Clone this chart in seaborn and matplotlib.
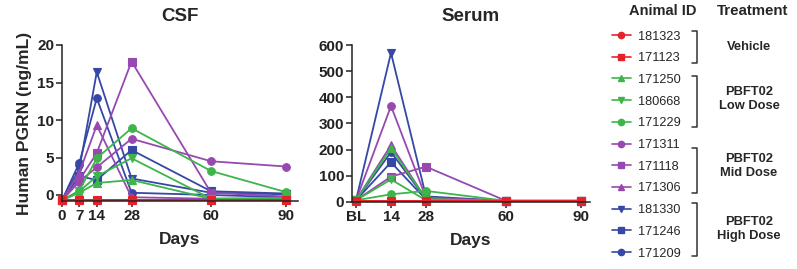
import numpy as np
import pandas as pd
import matplotlib
matplotlib.use("Agg")
import matplotlib.pyplot as plt
from matplotlib.lines import Line2D
import seaborn as sns

# ---------------- data ----------------
animals = ["181323", "171123", "171250", "180668", "171229",
           "171311", "171118", "171306", "181330", "171246", "171209"]
groups = ["Vehicle", "Vehicle", "Low", "Low", "Low",
          "Mid", "Mid", "Mid", "High", "High", "High"]

csf_days = [0, 7, 14, 28, 60, 90]
csf_vals = {
    "181323": [-0.7, -0.7, -0.7, -0.7, -0.7, -0.7],
    "171123": [-0.7, -0.7, -0.7, -0.7, -0.7, -0.7],
    "171250": [-0.7, 0.3, 1.6, 2.0, -0.5, -0.5],
    "180668": [-0.7, 0.5, 2.5, 4.9, -0.5, -0.4],
    "171229": [-0.7, 0.6, 4.9, 8.9, 3.2, 0.4],
    "171311": [-0.7, 1.8, 3.7, 7.5, 4.5, 3.8],
    "171118": [-0.7, 2.0, 5.6, 17.8, 0.3, -0.2],
    "171306": [-0.7, 3.0, 9.3, -0.3, -0.5, -0.5],
    "181330": [-0.7, 3.5, 16.4, 2.2, 0.3, 0.1],
    "171246": [-0.7, 2.5, 2.0, 6.0, 0.5, 0.2],
    "171209": [-0.7, 4.3, 12.9, 0.3, 0.0, -0.3],
}

serum_days = [0, 14, 28, 60, 90]
serum_vals = {
    "181323": [3, 3, 3, 3, 3],
    "171123": [3, 3, 3, 3, 3],
    "171250": [5, 205, 10, 2, 2],
    "180668": [5, 85, 5, 2, 2],
    "171229": [5, 28, 41, 3, 3],
    "171311": [5, 367, 15, 3, 3],
    "171118": [5, 96, 134, 3, 3],
    "171306": [5, 217, 10, 3, 3],
    "181330": [5, 571, 20, 3, 3],
    "171246": [5, 151, 8, 3, 3],
    "171209": [5, 190, 10, 3, 3],
}

csf_xticks = [0, 7, 14, 28, 60, 90]
csf_yticks = [0, 5, 10, 15, 20]
serum_xticks = [0, 14, 28, 60, 90]
serum_xlabels = ["BL", "14", "28", "60", "90"]
serum_yticks = [0, 100, 200, 300, 400, 500, 600]

treatments = ["Vehicle", "PBFT02\nLow Dose", "PBFT02\nMid Dose", "PBFT02\nHigh Dose"]

# ---------------- styles ----------------
group_colors = {"Vehicle": "#e52229", "Low": "#3db54a", "Mid": "#9749b0", "High": "#3548a6"}
marker_map = {"181323": "o", "171123": "s", "171250": "^", "180668": "v", "171229": "o",
              "171311": "o", "171118": "s", "171306": "^", "181330": "v", "171246": "s",
              "171209": "o"}
palette = {a: group_colors[g] for a, g in zip(animals, groups)}

sns.set_theme(style="ticks")
plt.rcParams["font.family"] = ["Liberation Sans", "DejaVu Sans"]

W, H = 797, 269
fig = plt.figure(figsize=(W / 100, H / 100), dpi=100)


def ax_rect(x0, y0, x1, y1):
    return [x0 / W, 1 - y1 / H, (x1 - x0) / W, (y1 - y0) / H]


def fx(x):
    return x / W


def fy(y):
    return 1 - y / H


def long_df(days, vals):
    rows = []
    for a in animals:
        for d, v in zip(days, vals[a]):
            rows.append({"animal": a, "day": d, "value": v})
    return pd.DataFrame(rows)


draw_order = animals[::-1]  # vehicle drawn last (on top)

ax1 = fig.add_axes(ax_rect(62, 45, 298, 201))
ax2 = fig.add_axes(ax_rect(352, 45.3, 590, 202))

for ax, df in [(ax1, long_df(csf_days, csf_vals)), (ax2, long_df(serum_days, serum_vals))]:
    sns.lineplot(data=df, x="day", y="value", hue="animal", style="animal",
                 hue_order=draw_order, style_order=draw_order,
                 palette=palette, markers=marker_map, dashes=False,
                 linewidth=1.3, markersize=5.5, markeredgewidth=0.8,
                 legend=False, ax=ax, clip_on=False)
    for ln in ax.lines:
        ln.set_markeredgecolor(ln.get_color())

ax1.set_xlim(0, 95)
ax1.set_ylim(-0.8, 20)
ax1.set_xticks(csf_xticks)
ax1.set_yticks(csf_yticks)

ax2.set_xlim(-1.6, 93.6)
ax2.set_ylim(-1.5, 600)
ax2.set_xticks(serum_xticks)
ax2.set_xticklabels(serum_xlabels)
ax2.set_yticks(serum_yticks)

for ax, title in [(ax1, "CSF"), (ax2, "Serum")]:
    ax.set_title(title, fontsize=13.5, fontweight="bold", pad=17.5)
    ax.set_xlabel("Days", fontsize=12.5, fontweight="bold", labelpad=7)
    ax.set_ylabel("")
    for s in ["top", "right"]:
        ax.spines[s].set_visible(False)
    for s in ["left", "bottom"]:
        ax.spines[s].set_linewidth(1.1)
        ax.spines[s].set_color("#222222")
    ax.tick_params(axis="both", direction="out", length=4, width=1.1, color="#222222",
                   labelsize=11, pad=1.5)
    for lab in ax.get_xticklabels() + ax.get_yticklabels():
        lab.set_fontweight("bold")
        lab.set_color("#222222")

ax1.set_ylabel("Human PGRN (ng/mL)", fontsize=12.5, fontweight="bold", labelpad=4)

# ---------------- legend ----------------
handles = [Line2D([], [], color=palette[a], marker=marker_map[a], markersize=4.5,
                  markeredgecolor=palette[a], linewidth=1.2) for a in animals]
fig.legend(handles, animals, loc="upper left", bbox_to_anchor=(fx(612), fy(30.5)),
           frameon=False, fontsize=9.2, handlelength=1.45, handletextpad=0.55,
           labelspacing=0.76, borderpad=0, borderaxespad=0)

fig.text(fx(663), fy(11), "Animal ID", ha="center", va="center",
         fontsize=10.5, fontweight="bold")
fig.text(fx(753), fy(11), "Treatment", ha="center", va="center",
         fontsize=10.8, fontweight="bold")

brackets = [(31, 63), (76, 127), (148, 193), (203, 256)]
label_y = [47, 99, 166, 229]
for (y0, y1), t, ly in zip(brackets, treatments, label_y):
    fig.add_artist(Line2D([fx(692), fx(697), fx(697), fx(692)],
                          [fy(y0), fy(y0), fy(y1), fy(y1)],
                          color="#333333", linewidth=1.1))
    fig.text(fx(749), fy(ly), t, ha="center", va="center", fontsize=9.3,
             fontweight="bold", linespacing=1.15)

fig.savefig("out.png", dpi=100)
